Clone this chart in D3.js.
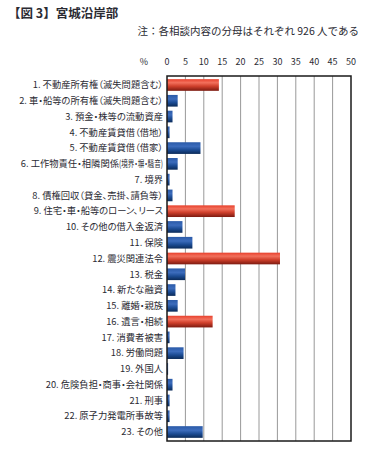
<!DOCTYPE html>
<html>
<head>
    <meta charset="utf-8">
    <script src="https://cdnjs.cloudflare.com/ajax/libs/d3/7.8.5/d3.min.js"></script>
    <style>
        body {
            margin: 0;
            background: #fff;
        }
        svg text {
            font-family: "Noto Sans CJK JP", "Noto Sans", sans-serif;
            fill: #2b2b33;
        }
        .title {
            font-size: 12.5px;
            font-weight: bold;
        }
        .note {
            font-size: 10.5px;
        }
        .tick-label {
            font-size: 9px;
        }
        .cat-label {
            font-size: 9.3px;
            font-feature-settings: "palt";
        }
        .grid-line {
            stroke: #999;
            stroke-width: 1;
        }
        .frame {
            fill: none;
            stroke: #1a1a1a;
            stroke-width: 1.5;
        }
    </style>
</head>
<body>
    <svg id="chart" width="365" height="449"></svg>

    <script>
        // data (percent of 926 people)
        // a "|" splits off the small condensed part of a label
        const categories = [
            "1. 不動産所有権（滅失問題含む）",
            "2. 車・船等の所有権（滅失問題含む）",
            "3. 預金・株等の流動資産",
            "4. 不動産賃貸借（借地）",
            "5. 不動産賃貸借（借家）",
            "6. 工作物責任・相隣関係|(境界・塀・騒音)",
            "7. 境界",
            "8. 債権回収（貸金、売掛、請負等）",
            "9. 住宅・車・船等のローン、リース",
            "10. その他の借入金返済",
            "11. 保険",
            "12. 震災関連法令",
            "13. 税金",
            "14. 新たな融資",
            "15. 離婚・親族",
            "16. 遺言・相続",
            "17. 消費者被害",
            "18. 労働問題",
            "19. 外国人",
            "20. 危険負担・商事・会社関係",
            "21. 刑事",
            "22. 原子力発電所事故等",
            "23. その他"
        ];
        const values = [14.1, 2.9, 1.5, 0.7, 9.1, 2.9, 0.7, 1.5, 18.4, 4.2, 6.9, 30.7,
                        4.9, 2.3, 2.9, 12.4, 0.7, 4.5, 0.3, 1.5, 0.7, 0.7, 9.7];
        const tickValues = [0, 5, 10, 15, 20, 25, 30, 35, 40, 45, 50];

        const svg = d3.select("#chart");

        const plotLeft = 167, plotRight = 351, plotTop = 76, plotBottom = 441;
        const labelRight = 163;
        const smallWidth = 44;

        const x = d3.scaleLinear().domain([0, 50]).range([plotLeft, plotRight]);
        const y = d3.scaleBand()
            .domain(categories)
            .range([plotTop, plotBottom])
            .paddingInner(0.26)
            .paddingOuter(0.2);

        // gradients for the bars
        const defs = svg.append("defs");
        const red = defs.append("linearGradient")
            .attr("id", "redGrad")
            .attr("x1", 0).attr("y1", 0).attr("x2", 0).attr("y2", 1);
        red.append("stop").attr("offset", "0%").attr("stop-color", "#e8402c");
        red.append("stop").attr("offset", "30%").attr("stop-color", "#f2705c");
        red.append("stop").attr("offset", "60%").attr("stop-color", "#d0402c");
        red.append("stop").attr("offset", "100%").attr("stop-color", "#7c1a10");

        const blue = defs.append("linearGradient")
            .attr("id", "blueGrad")
            .attr("x1", 0).attr("y1", 0).attr("x2", 0).attr("y2", 1);
        blue.append("stop").attr("offset", "0%").attr("stop-color", "#2a5aa8");
        blue.append("stop").attr("offset", "35%").attr("stop-color", "#3c6cbc");
        blue.append("stop").attr("offset", "65%").attr("stop-color", "#1c4c94");
        blue.append("stop").attr("offset", "100%").attr("stop-color", "#0a2a58");

        // title and note
        svg.append("text")
            .attr("class", "title")
            .attr("x", 8)
            .attr("y", 18)
            .text("【図 3】宮城沿岸部");

        svg.append("text")
            .attr("class", "note")
            .attr("x", 359)
            .attr("y", 35)
            .attr("text-anchor", "end")
            .text("注：各相談内容の分母はそれぞれ 926 人である");

        // top axis labels
        svg.append("text")
            .attr("class", "tick-label")
            .attr("x", 144)
            .attr("y", 65)
            .attr("text-anchor", "middle")
            .text("%");

        svg.selectAll(".tick-text")
            .data(tickValues)
            .enter()
            .append("text")
            .attr("class", "tick-label")
            .attr("x", d => x(d))
            .attr("y", 65)
            .attr("text-anchor", "middle")
            .text(d => d);

        // grid lines
        svg.selectAll(".grid-line")
            .data(tickValues.slice(1, -1))
            .enter()
            .append("line")
            .attr("class", "grid-line")
            .attr("x1", d => x(d))
            .attr("x2", d => x(d))
            .attr("y1", plotTop)
            .attr("y2", plotBottom);

        // bars
        svg.selectAll(".bar")
            .data(values)
            .enter()
            .append("rect")
            .attr("class", "bar")
            .attr("x", x(0))
            .attr("y", (d, i) => y(categories[i]))
            .attr("width", d => x(d) - x(0))
            .attr("height", y.bandwidth())
            .attr("fill", d => d > 10 ? "url(#redGrad)" : "url(#blueGrad)");

        // frame
        svg.append("rect")
            .attr("class", "frame")
            .attr("x", plotLeft)
            .attr("y", plotTop)
            .attr("width", plotRight - plotLeft)
            .attr("height", plotBottom - plotTop);

        // category labels
        categories.forEach(d => {
            const parts = d.split("|");
            const cy = y(d) + y.bandwidth() / 2;
            const main = svg.append("text")
                .attr("class", "cat-label")
                .attr("x", parts[1] ? labelRight - smallWidth : labelRight)
                .attr("y", cy)
                .attr("dy", "0.35em")
                .attr("text-anchor", "end")
                .text(parts[0]);
            if (parts[1]) {
                svg.append("text")
                    .attr("class", "cat-label")
                    .attr("x", labelRight - smallWidth)
                    .attr("y", cy)
                    .attr("dy", "0.35em")
                    .attr("textLength", smallWidth)
                    .attr("lengthAdjust", "spacingAndGlyphs")
                    .text(parts[1]);
            }
        });
    </script>
</body>
</html>
